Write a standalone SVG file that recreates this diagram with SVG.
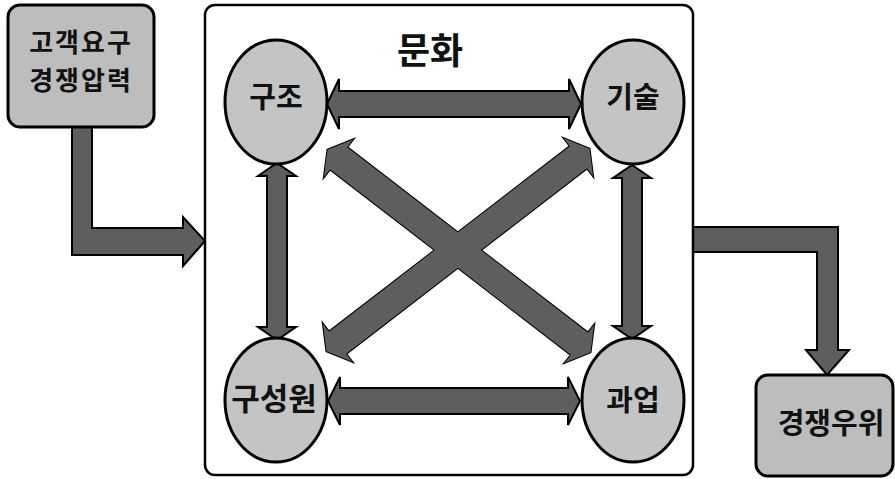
<svg xmlns="http://www.w3.org/2000/svg" width="895" height="479" viewBox="0 0 895 479">
<style>
.box{fill:#bdbdbd;stroke:#000;stroke-width:3}
.frame{fill:#fff;stroke:#000;stroke-width:2.5}
.node{fill:#c4c4c4;stroke:#000;stroke-width:3}
.arr{fill:#5e5e5e;stroke:#000;stroke-width:2;stroke-linejoin:miter}
.arrf{fill:#5e5e5e;stroke:none}
text{font-family:"Noto Sans CJK KR","Noto Sans",sans-serif;font-weight:700;fill:#111;text-anchor:middle}
</style>
<defs>
<polygon id="diag" points="-166,0 -152,-24 -152,-14 152,-14 152,-24 166,0 152,24 152,14 -152,14 -152,24"/>
</defs>
<g id="connectors">
<polygon class="arr" points="72,127 92,127 92,228 183,228 183,217 205,241 183,266 183,255 72,255"/>
<polygon class="arr" points="693,227 838,227 838,350 849,350 827,375 806,350 817,350 817,252 693,252"/>
</g>
<g id="culture">
<rect class="frame" x="205" y="5" width="488" height="470" rx="10"/>
<text x="430" y="64" font-size="36">문화</text>
</g>
<g id="input">
<rect class="box" x="8" y="5" width="146" height="122" rx="12"/>
<text x="81" y="52" font-size="26" letter-spacing="2">고객요구</text>
<text x="81" y="90" font-size="26" letter-spacing="2">경쟁압력</text>
</g>
<g id="output">
<rect class="box" x="756" y="375" width="137" height="101" rx="12"/>
<text x="831" y="434" font-size="29">경쟁우위</text>
</g>
<g id="inner-connectors">
<polygon class="arr" points="327,104 339,79 339,91 569,91 569,79 581,104 569,129 569,117 339,117 339,129"/>
<polygon class="arr" points="328,401 340,377 340,388 568,388 568,377 580,401 568,425 568,414 340,414 340,425"/>
<polygon class="arr" points="277,163 296,176 287,176 287,327 296,327 277,340 258,327 267,327 267,176 258,176"/>
<polygon class="arr" points="632,165 651,178 642,178 642,326 651,326 632,339 613,326 622,326 622,178 613,178"/>
<use href="#diag" class="arr" transform="translate(459,251) rotate(37.6)"/>
<use href="#diag" class="arr" transform="translate(458,250) rotate(-37.6)"/>
<use href="#diag" class="arrf" transform="translate(459,251) rotate(37.6)"/>
<use href="#diag" class="arrf" transform="translate(458,250) rotate(-37.6)"/>
</g>
<g id="structure">
<ellipse class="node" cx="276" cy="102" rx="51" ry="62"/>
<text x="276" y="108" font-size="29">구조</text>
</g>
<g id="technology">
<ellipse class="node" cx="633" cy="102" rx="51" ry="62"/>
<text x="633" y="108" font-size="29">기술</text>
</g>
<g id="members">
<ellipse class="node" cx="276" cy="400" rx="51" ry="62"/>
<text x="274" y="410" font-size="31">구성원</text>
</g>
<g id="task">
<ellipse class="node" cx="633" cy="400" rx="51" ry="62"/>
<text x="633" y="411" font-size="29">과업</text>
</g>
</svg>
